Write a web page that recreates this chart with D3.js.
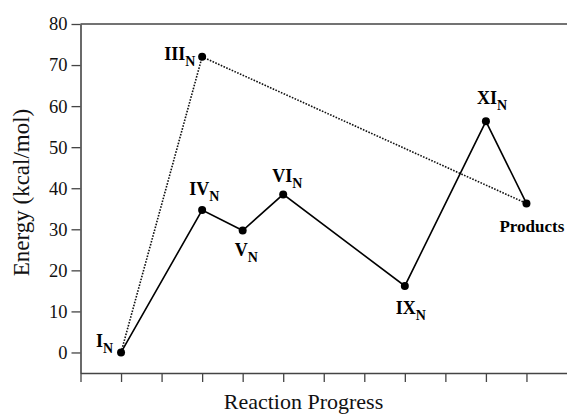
<!DOCTYPE html>
<html>
<head>
<meta charset="utf-8">
<script src="https://cdn.jsdelivr.net/npm/d3@7"></script>
<style>
  html, body { margin: 0; padding: 0; background: #fff; }
  svg { display: block; font-family: "Liberation Serif", "Times New Roman", serif; }
</style>
</head>
<body>
<svg id="chart" width="567" height="415"></svg>
<script>
// Stationary points along the reaction coordinate (kcal/mol)
const stateNames   = ["I", "III", "IV", "V", "VI", "IX", "XI", "Products"];
const statePos     = [1, 3, 3, 4, 5, 8, 10, 11];
const stateEnergy  = [0, 72.0, 34.7, 29.7, 38.5, 16.2, 56.3, 36.3];
const stateSub     = ["N", "N", "N", "N", "N", "N", "N", ""];

// Pathways, given as state names
const solidPath  = ["I", "IV", "V", "VI", "IX", "XI", "Products"];
const dottedPath = ["I", "III", "Products"];

const yTicks = [0, 10, 20, 30, 40, 50, 60, 70, 80];
const xTicks = [0, 1, 2, 3, 4, 5, 6, 7, 8, 9, 10, 11];

// Label placement relative to each point (dx, dy to text baseline start)
const labelOffset = {
  "I": [-25, -5], "III": [-38, 3], "IV": [-13, -15], "V": [-8, 25],
  "VI": [-11, -12], "IX": [-9, 28], "XI": [-9, -17], "Products": [-27, 29]
};

const svg = d3.select("#chart");
const plotLeft = 80.5, plotRight = 567, plotTop = 24, plotBottom = 373;

const x = d3.scaleLinear().domain([0, 12]).range([plotLeft, plotRight]);
const y = d3.scaleLinear().domain([-5, 80]).range([plotBottom, plotTop]);

const axisColor = "#444";

// Top frame line
svg.append("line")
  .attr("x1", plotLeft).attr("x2", plotRight)
  .attr("y1", plotTop).attr("y2", plotTop)
  .attr("stroke", axisColor).attr("stroke-width", 1.6);

// Y axis
const yAxis = svg.append("g")
  .attr("transform", `translate(${plotLeft},0)`)
  .call(d3.axisLeft(y).tickValues(yTicks).tickSize(9).tickSizeOuter(0).tickPadding(4));
yAxis.select(".domain").attr("stroke", axisColor).attr("stroke-width", 1.6);
yAxis.selectAll(".tick line").attr("stroke", axisColor).attr("stroke-width", 1.3);
yAxis.selectAll(".tick text")
  .attr("font-family", "Liberation Serif, serif")
  .attr("font-size", 18.5).attr("fill", "#111");

// X axis (unlabelled ticks)
const xAxis = svg.append("g")
  .attr("transform", `translate(0,${plotBottom})`)
  .call(d3.axisBottom(x).tickValues(xTicks).tickSize(9).tickSizeOuter(0).tickFormat(""));
xAxis.select(".domain").attr("stroke", axisColor).attr("stroke-width", 1.6);
xAxis.selectAll(".tick line").attr("stroke", axisColor).attr("stroke-width", 1.3);

// Axis titles
svg.append("text")
  .attr("transform", `translate(29,${(plotTop + plotBottom) / 2 - 6}) rotate(-90)`)
  .attr("text-anchor", "middle")
  .attr("font-size", 23).attr("fill", "#111")
  .text("Energy (kcal/mol)");

svg.append("text")
  .attr("x", (x(0) + x(11)) / 2).attr("y", 409)
  .attr("text-anchor", "middle")
  .attr("font-size", 22).attr("fill", "#111")
  .text("Reaction Progress");

const idx = name => stateNames.indexOf(name);
const line = d3.line()
  .x(n => x(statePos[idx(n)]))
  .y(n => y(stateEnergy[idx(n)]));

svg.append("path")
  .attr("d", line(dottedPath))
  .attr("fill", "none").attr("stroke", "#111")
  .attr("stroke-width", 1.6).attr("stroke-dasharray", "1.6,1.4");

svg.append("path")
  .attr("d", line(solidPath))
  .attr("fill", "none").attr("stroke", "#000")
  .attr("stroke-width", 1.6);

svg.append("g").selectAll("circle")
  .data(stateNames)
  .join("circle")
  .attr("cx", (d, i) => x(statePos[i]))
  .attr("cy", (d, i) => y(stateEnergy[i]))
  .attr("r", 4)
  .attr("fill", "#000");

// State labels with subscripts
const labels = svg.append("g").selectAll("text")
  .data(stateNames)
  .join("text")
  .attr("x", (d, i) => x(statePos[i]) + labelOffset[d][0])
  .attr("y", (d, i) => y(stateEnergy[i]) + labelOffset[d][1])
  .attr("font-size", d => d === "Products" ? 17 : 18)
  .attr("font-weight", "bold").attr("fill", "#000");
labels.append("tspan").text(d => d);
labels.append("tspan")
  .attr("dy", 6).attr("font-size", 14)
  .text((d, i) => stateSub[i]);
</script>
</body>
</html>
